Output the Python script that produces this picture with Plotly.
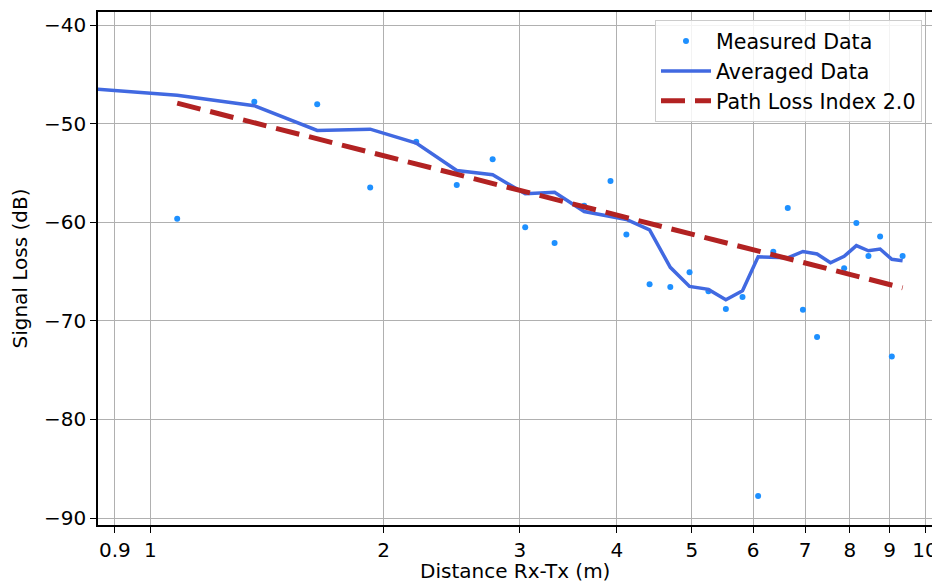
import plotly.graph_objects as go

# Measured data (distance in m, signal loss in dB)
meas_x = [1.083, 1.362, 1.642, 1.922, 2.204, 2.486, 2.766, 3.047, 3.325, 3.631,
          3.926, 4.116, 4.41, 4.69, 4.966, 5.253, 5.532, 5.813, 6.089, 6.37,
          6.65, 6.956, 7.255, 7.863, 8.154, 8.452, 8.75, 9.06, 9.355]
meas_y = [-59.64, -47.76, -48.0, -56.46, -51.82, -56.2, -53.6, -60.5, -62.08, -58.3,
          -55.79, -61.24, -66.29, -66.56, -65.07, -67.0, -68.8, -67.58, -87.76, -62.97,
          -58.53, -68.86, -71.64, -64.66, -60.05, -63.4, -61.44, -73.6, -63.4]

# Averaged data
avg_x = [0.8, 1.083, 1.362, 1.642, 1.922, 2.204, 2.486, 2.766, 3.047, 3.325,
         3.631, 3.926, 4.116, 4.41, 4.69, 4.966, 5.253, 5.532, 5.813, 6.089,
         6.37, 6.65, 6.956, 7.255, 7.55, 7.863, 8.154, 8.452, 8.75, 9.06, 9.355]
avg_y = [-46.3, -47.1, -48.16, -50.67, -50.54, -51.96, -54.74, -55.17, -57.1, -56.94,
         -58.9, -59.35, -59.7, -60.77, -64.56, -66.5, -66.8, -67.85, -66.93, -63.5,
         -63.55, -63.6, -62.95, -63.2, -64.1, -63.45, -62.36, -62.88, -62.7, -63.75, -63.9]

# Path loss index 2.0 model line (end points)
pl_x = [1.083, 9.355]
pl_y = [-47.9, -66.64]

x_tickvals = [0.9, 1, 2, 3, 4, 5, 6, 7, 8, 9, 10]
x_ticktext = ["0.9", "1", "2", "3", "4", "5", "6", "7", "8", "9", "10"]
y_tickvals = [-90, -80, -70, -60, -50, -40]

FONT = "DejaVu Sans"
FS = 20

fig = go.Figure()
fig.add_trace(go.Scatter(
    x=meas_x, y=meas_y, mode="markers", name="Measured Data",
    marker=dict(color="#1E90FF", size=6, line=dict(width=0)),
    legendgroup="a"))
fig.add_trace(go.Scatter(
    x=avg_x, y=avg_y, mode="lines", name="Averaged Data",
    line=dict(color="#4169E1", width=3.5),
    legendgroup="b"))
fig.add_trace(go.Scatter(
    x=pl_x, y=pl_y, mode="lines", name="Path Loss Index 2.0",
    line=dict(color="#B22222", width=5, dash="24px,10px"),
    legendgroup="c"))

axis_common = dict(
    showline=True, linecolor="black", linewidth=1.5, mirror=True,
    ticks="outside", ticklen=6, tickwidth=1.3, tickcolor="black",
    showgrid=True, gridcolor="#b0b0b0", gridwidth=1,
    zeroline=False, automargin=False,
    tickfont=dict(family=FONT, size=FS, color="black"),
)

fig.update_xaxes(
    type="log",
    range=[-0.0676, 1.009],
    tickvals=x_tickvals, ticktext=x_ticktext,
    **axis_common)
fig.update_yaxes(
    range=[-90.71, -38.65],
    tickvals=y_tickvals,
    title=dict(text="Signal Loss (dB)", font=dict(family=FONT, size=FS, color="black")),
    **axis_common)

# x-axis title placed as an annotation for precise vertical position
fig.add_annotation(
    text="Distance Rx-Tx (m)", xref="paper", yref="paper",
    x=0.5, y=-0.089, xanchor="center", yanchor="middle",
    showarrow=False, font=dict(family=FONT, size=FS, color="black"))

# The page body has an 8px margin, so the figure is shrunk by 8px and margins shifted.
fig.update_layout(
    width=932, height=575,
    margin=dict(l=90, r=8, t=4, b=58),
    plot_bgcolor="white", paper_bgcolor="white",
    font=dict(family=FONT, size=FS, color="black"),
    legend=dict(
        x=0.988, y=0.984, xanchor="right", yanchor="top",
        bgcolor="rgba(255,255,255,0.85)", bordercolor="#cccccc", borderwidth=1,
        font=dict(family=FONT, size=20.6, color="black"),
        tracegroupgap=0, traceorder="grouped", itemwidth=50,
    ),
    showlegend=True,
)

fig.write_html("out.html")
